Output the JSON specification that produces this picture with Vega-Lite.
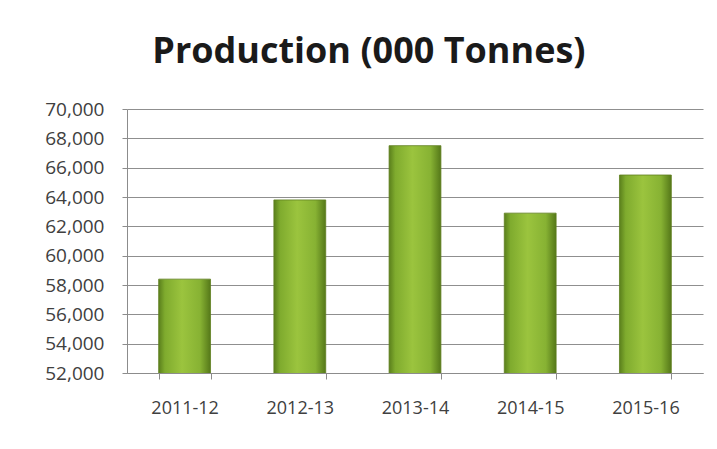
{
  "$schema": "https://vega.github.io/schema/vega-lite/v6.json",
  "autosize": {"type": "none"},
  "width": 576,
  "height": 264,
  "padding": {"left": 127, "top": 109, "right": 14, "bottom": 76},
  "background": "white",
  "title": {
    "text": "Production (000 Tonnes)",
    "font": "Open Sans",
    "fontSize": 36,
    "fontWeight": "bold",
    "color": "#1a1a1a",
    "anchor": "middle",
    "frame": "bounds",
    "offset": 29,
    "dx": -5
  },
  "data": {
    "values": [
      {"year": "2011-12", "production": 58400},
      {"year": "2012-13", "production": 63800},
      {"year": "2013-14", "production": 67500},
      {"year": "2014-15", "production": 62900},
      {"year": "2015-16", "production": 65500}
    ]
  },
  "mark": {
    "type": "bar",
    "clip": true,
    "stroke": "#5f7f20",
    "strokeWidth": 0.8,
    "color": {
      "gradient": "linear",
      "x1": 0, "y1": 0, "x2": 1, "y2": 0,
      "stops": [
        {"offset": 0, "color": "#5a7f1c"},
        {"offset": 0.12, "color": "#7fab2e"},
        {"offset": 0.45, "color": "#9bc43e"},
        {"offset": 0.8, "color": "#87b233"},
        {"offset": 1, "color": "#557819"}
      ]
    }
  },
  "encoding": {
    "x": {
      "field": "year",
      "type": "nominal",
      "sort": null,
      "scale": {"paddingInner": 0.55, "paddingOuter": 0.275},
      "axis": {
        "title": null,
        "labelAngle": 0,
        "labelFont": "Open Sans",
        "labelFontSize": 18,
        "labelColor": "#404040",
        "labelPadding": 20,
        "tickBand": "extent",
        "tickColor": "#8c8c8c",
        "tickSize": 6,
        "domainColor": "#8c8c8c",
        "grid": false
      }
    },
    "y": {
      "field": "production",
      "type": "quantitative",
      "scale": {"domain": [52000, 70000], "zero": false, "nice": false},
      "axis": {
        "title": null,
        "values": [52000, 54000, 56000, 58000, 60000, 62000, 64000, 66000, 68000, 70000],
        "format": ",d",
        "labelFont": "Open Sans",
        "labelFontSize": 19,
        "labelColor": "#404040",
        "labelPadding": 18,
        "tickColor": "#8c8c8c",
        "tickSize": 5,
        "domainColor": "#8c8c8c",
        "gridColor": "#8f8f8f",
        "gridWidth": 1.2
      }
    }
  },
  "config": {"view": {"stroke": null}}
}
